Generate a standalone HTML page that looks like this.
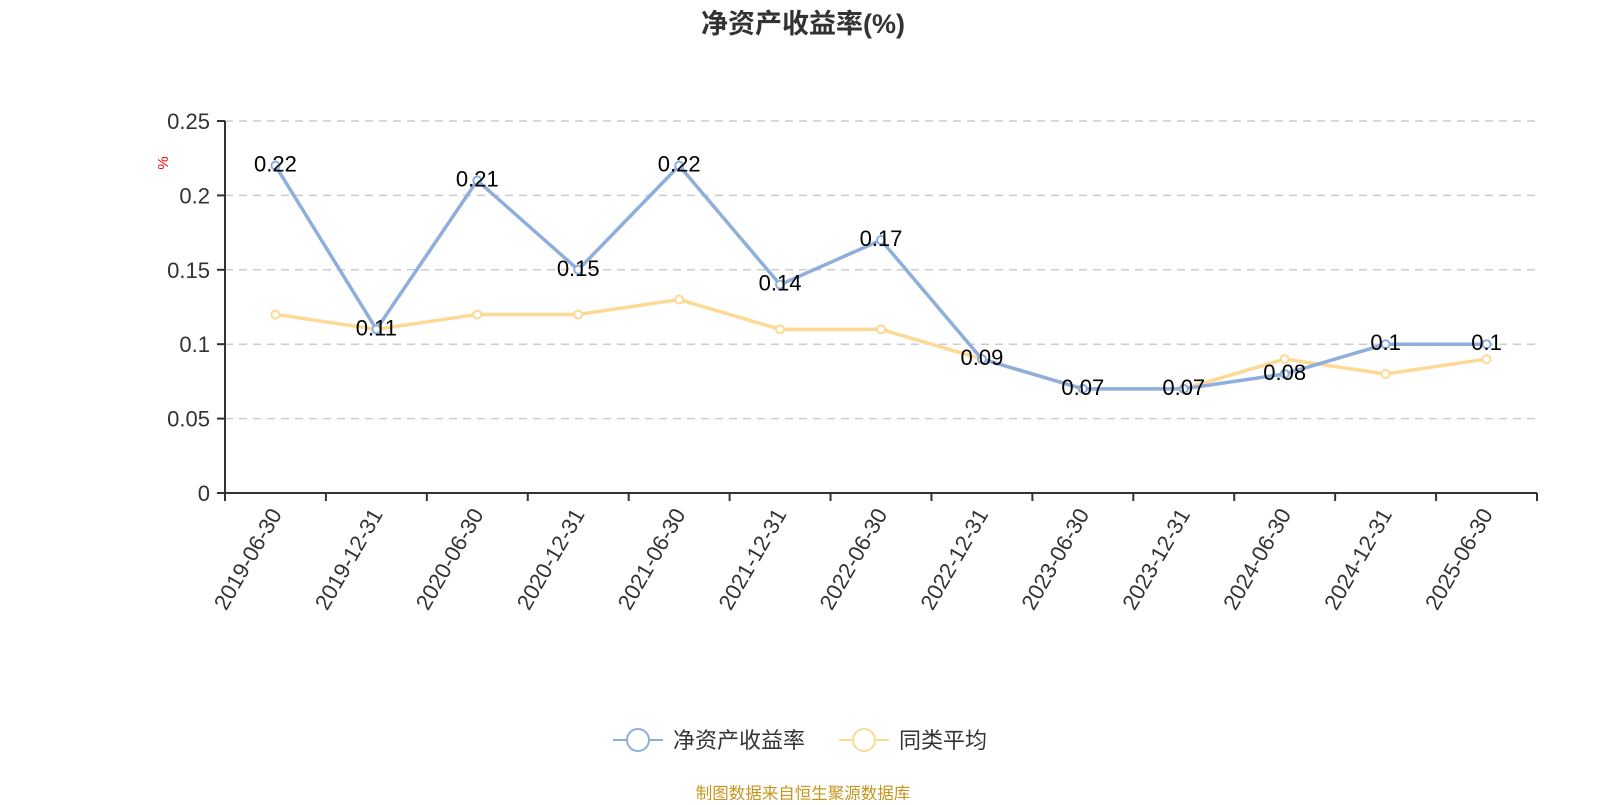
<!DOCTYPE html>
<html><head><meta charset="utf-8"><style>
body{margin:0;background:#fff;width:1600px;height:800px;overflow:hidden;font-family:"Liberation Sans","Noto Sans CJK SC",sans-serif}
</style></head><body>
<svg width="1600" height="800" font-family="Liberation Sans, Noto Sans CJK SC, sans-serif">
<text x="803" y="33" text-anchor="middle" font-size="27" font-weight="bold" fill="#333">净资产收益率(%)</text>
<text x="168" y="163" font-size="15" fill="red" transform="rotate(-90 168 163)" text-anchor="middle">%</text>
<g id="grid"></g><g id="axes"></g><g id="series"></g><g id="labels"></g>
<g>
<g><line x1="613" y1="740" x2="663" y2="740" stroke="#8eaedb" stroke-width="2"/><circle cx="638" cy="740" r="11" fill="#fff" stroke="#8eaedb" stroke-width="2"/><text x="673" y="748" font-size="22" fill="#333">净资产收益率</text></g>
<g><line x1="839" y1="740" x2="889" y2="740" stroke="#fdd995" stroke-width="2"/><circle cx="864" cy="740" r="11" fill="#fff" stroke="#fdd995" stroke-width="2"/><text x="899" y="748" font-size="22" fill="#333">同类平均</text></g>
</g>
<text x="803" y="799" text-anchor="middle" font-size="16.5" fill="#c8961e">制图数据来自恒生聚源数据库</text>
</svg>
<script>
const categories=["2019-06-30","2019-12-31","2020-06-30","2020-12-31","2021-06-30","2021-12-31","2022-06-30","2022-12-31","2023-06-30","2023-12-31","2024-06-30","2024-12-31","2025-06-30"];
const roeValues=[0.22,0.11,0.21,0.15,0.22,0.14,0.17,0.09,0.07,0.07,0.08,0.1,0.1];
const avgValues=[0.12,0.11,0.12,0.12,0.13,0.11,0.11,0.09,0.07,0.07,0.09,0.08,0.09];
const yTicks=[0,0.05,0.1,0.15,0.2,0.25];
const yTickLabels=["0","0.05","0.1","0.15","0.2","0.25"];
const NS="http://www.w3.org/2000/svg";
const X0=225,X1=1537,Y0=493,Y1=121,YMAX=0.25;
const band=(X1-X0)/categories.length;
const xs=i=>X0+band*(i+0.5);
const ys=v=>Y0-(v/YMAX)*(Y0-Y1);
function mk(tag,attrs,parent){const e=document.createElementNS(NS,tag);for(const k in attrs)e.setAttribute(k,attrs[k]);parent.appendChild(e);return e;}
const grid=document.getElementById('grid'),axes=document.getElementById('axes'),ser=document.getElementById('series'),lab=document.getElementById('labels');
yTicks.forEach((t,i)=>{
 if(t>0){const g=mk('line',{x1:X0,x2:X1,y1:ys(t),y2:ys(t),stroke:'#ccc','stroke-dasharray':'8,6','stroke-width':1.5},grid);
 
 }
 const tk=mk('line',{x1:X0-8,x2:X0,y1:ys(t),y2:ys(t),stroke:'#333','stroke-width':2},axes);
 
 
 const tl=mk('text',{x:X0-15,y:ys(t)+8,'text-anchor':'end','font-size':22,fill:'#333'},axes);tl.textContent=yTickLabels[i];
 
 
});
const ya=mk('line',{x1:X0,x2:X0,y1:Y1,y2:Y0,stroke:'#333','stroke-width':2},axes);


const xa=mk('line',{x1:X0,x2:X1,y1:Y0,y2:Y0,stroke:'#333','stroke-width':2},axes);


for(let i=0;i<=categories.length;i++){const t=mk('line',{x1:X0+band*i,x2:X0+band*i,y1:Y0,y2:Y0+8,stroke:'#333','stroke-width':2},axes);
 
 }
categories.forEach((c,i)=>{const x=xs(i),y=Y0+15;
 const t=mk('text',{x:x+7,y:y+6,'text-anchor':'end','font-size':22,fill:'#333',transform:`rotate(-60 ${x+7} ${y+6})`},axes);t.textContent=c;
 
 });
function series(vals,color,name,labels){
 const p=mk('polyline',{points:vals.map((v,i)=>xs(i)+','+ys(v)).join(' '),fill:'none',stroke:color,'stroke-width':3.5,'stroke-linejoin':'round'},ser);
 
 
 vals.forEach((v,i)=>{const c=mk('circle',{cx:xs(i),cy:ys(v),r:4,fill:'#fff',stroke:color,'stroke-width':2},ser);
  
  
  if(labels){const t=mk('text',{x:xs(i),y:ys(v)+6,'text-anchor':'middle','font-size':22,fill:'#000'},lab);t.textContent=String(v);
   
   }});
}
series(avgValues,'#fdd995','peer-avg',false);
series(roeValues,'#8eaedb','roe',true);
</script>
</body></html>
